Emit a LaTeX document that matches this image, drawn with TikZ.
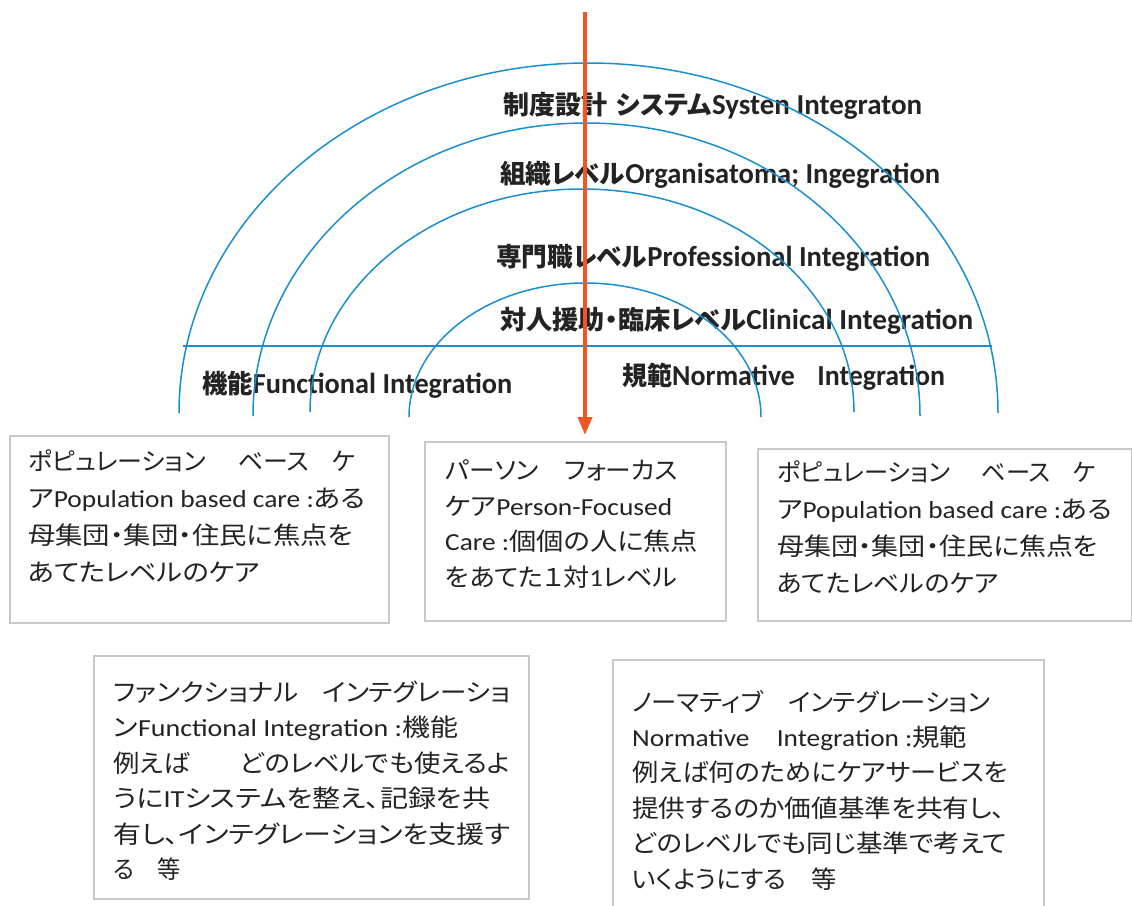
\documentclass[tikz,border=0pt]{standalone}
\usepackage{fontspec}
\usepackage{graphicx}
\setmainfont{Noto Sans CJK JP}[RawFeature={+palt}]
\newfontfamily\lat{Carlito}
\newcommand\E[1]{{\lat #1}}
\newcommand\EB[1]{{\lat\fontsize{29}{29}\selectfont #1}}
\newcommand\LN[2]{\resizebox{#1pt}{\height}{#2}}
\usetikzlibrary{arrows.meta}
\definecolor{arcblue}{RGB}{26,143,208}
\definecolor{arrowred}{RGB}{238,86,36}
\definecolor{boxgray}{RGB}{200,200,200}
\definecolor{inkgray}{RGB}{35,35,35}
\begin{document}
\begin{tikzpicture}[x=1pt,y=-1pt,
  arcline/.style={draw=arcblue, line width=1.5pt},
  arrowline/.style={draw=arrowred, line width=4pt, -{Triangle[width=14pt,length=18pt]}},
  boxframe/.style={draw=boxgray, line width=1.8pt, inner sep=0pt, anchor=north west},
  title/.style={inner sep=0pt, anchor=west, font=\bfseries\fontsize{26}{26}\selectfont, text=inkgray},
  boxtext/.style={inner sep=0pt, anchor=north west, align=left, font=\fontsize{24.5}{35.4}\selectfont, text=inkgray},
  boxtextwide/.style={boxtext, font=\fontsize{24.5}{36.8}\selectfont}]
\clip (0,0) rectangle (1132,905);
\fill[white] (0,0) rectangle (1132,905);

% boxes
\node[boxframe, minimum width=379pt, minimum height=187pt] (b1) at (9,435) {};
\node[boxframe, minimum width=301pt, minimum height=179pt] (b2) at (424,441) {};
\node[boxframe, minimum width=374pt, minimum height=172pt] (b3) at (757,448) {};
\node[boxframe, minimum width=435pt, minimum height=243pt] (b4) at (93,655) {};
\node[boxframe, minimum width=431pt, minimum height=270pt] (b5) at (612,659) {};

% box texts
\node[boxtextwide] (tx1) at (28,449.8) {\LN{327}{ポピュレーション\hspace{1.3em}ベース\hspace{0.9em}ケ}\\
\LN{337}{ア\E{Population based care :}ある}\\
\LN{325}{母集団・集団・住民に焦点を}\\
\LN{232}{あてたレベルのケア}};
\node[boxtext] (tx2) at (445,459.8) {\LN{233}{パーソン\hspace{1em}フォーカス}\\
\LN{227}{ケア\E{Person-Focused}}\\
\LN{253}{\E{Care :}個個の人に焦点}\\
\LN{232}{をあてた１対\E{1}レベル}};
\node[boxtextwide] (tx3) at (777,460.8) {\LN{318}{ポピュレーション\hspace{1.3em}ベース\hspace{0.9em}ケ}\\
\LN{335}{ア\E{Population based care :}ある}\\
\LN{321}{母集団・集団・住民に焦点を}\\
\LN{221}{あてたレベルのケア}};
\node[boxtext] (tx4) at (113,680.8) {\LN{397}{ファンクショナル\hspace{0.9em}インテグレーショ}\\
\LN{345}{ン\E{Functional Integration :}機能}\\
\LN{397}{例えば\hspace{1.9em}どのレベルでも使えるよ}\\
\LN{377}{うに\E{IT}システムを整え、記録を共}\\
\LN{397}{有し、インテグレーションを支援す}\\
\LN{67}{る\hspace{1em}等}};
\node[boxtext] (tx5) at (632,689.8) {\LN{358}{ノーマティブ\hspace{1em}インテグレーション}\\
\LN{335}{\E{Normative\hspace{1em}Integration :}規範}\\
\LN{376}{例えば何のためにケアサービスを}\\
\LN{373}{提供するのか価値基準を共有し、}\\
\LN{375}{どのレベルでも同じ基準で考えて}\\
\LN{205}{いくようにする\hspace{1em}等}};

% titles
\node[title] (t1) at (503,106) {\LN{419}{制度設計\hspace{0.35em}システム\EB{Systen Integraton}}};
\node[title] (t2) at (500,175) {\LN{440}{組織レベル\EB{Organisatoma; Ingegration}}};
\node[title] (t3) at (496,258) {\LN{434}{専門職レベル\EB{Professional Integration}}};
\node[title] (t4) at (500,321) {\LN{473}{対人援助・臨床レベル\EB{Clinical Integration}}};
\node[title] (t5) at (202,385) {\LN{310}{機能\EB{Functional Integration}}};
\node[title] (t6) at (622,377) {\LN{323}{規範\EB{Normative\hspace{0.8em}Integration}}};

% arcs and base line
\draw[arcline] (179,413) arc[start angle=180, end angle=0, x radius=409.5pt, y radius=350pt];
\draw[arcline] (253,416) arc[start angle=180, end angle=0, x radius=333.5pt, y radius=293pt];
\draw[arcline] (310,412) arc[start angle=180, end angle=0, x radius=272pt, y radius=223pt];
\draw[arcline] (409,417) arc[start angle=180, end angle=0, x radius=176pt, y radius=134pt];
\coordinate (baseL) at (183,346);
\coordinate (baseR) at (992,346);
\draw[arcline, line width=1.8pt] (baseL) -- (baseR);

% arrow
\coordinate (arrtop) at (585,12);
\coordinate (arrtip) at (585,435);
\draw[arrowline] (arrtop) -- (arrtip);
\end{tikzpicture}
\end{document}
